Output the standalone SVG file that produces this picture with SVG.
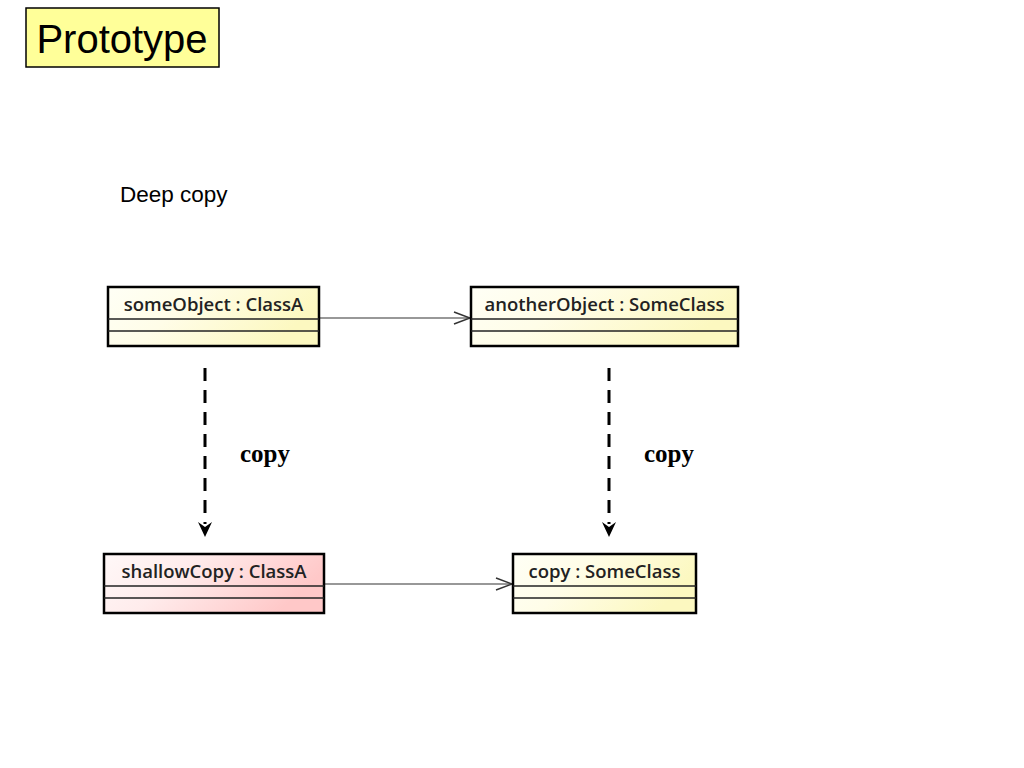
<svg xmlns="http://www.w3.org/2000/svg" width="1024" height="768" viewBox="0 0 1024 768">
<defs>
<linearGradient id="gy" x1="0" y1="0" x2="1" y2="0.3">
<stop offset="0" stop-color="#fffff6"/>
<stop offset="0.4" stop-color="#fffde8"/>
<stop offset="1" stop-color="#fcf8c0"/>
</linearGradient>
<linearGradient id="gp" x1="0" y1="0" x2="1" y2="0.3">
<stop offset="0" stop-color="#fff8f8"/>
<stop offset="0.4" stop-color="#ffecec"/>
<stop offset="1" stop-color="#ffc8c8"/>
</linearGradient>
<marker id="open" markerWidth="20" markerHeight="14" refX="18" refY="7" orient="auto" markerUnits="userSpaceOnUse">
<path d="M2,1 L18,7 L2,13" fill="none" stroke="#333" stroke-width="1.5"/>
</marker>
<style>
.box{stroke:#000;stroke-width:2.5}
.sep{stroke:#222;stroke-width:1.5}
.lbl{font-family:"Open Sans","DejaVu Sans",sans-serif;font-weight:600;font-size:18.5px;fill:#222;text-anchor:middle}
.conn{stroke:#333;stroke-width:1.2;fill:none}
.dash{stroke:#000;stroke-width:3;stroke-dasharray:13 9;fill:none}
.cp{font-family:"Liberation Serif",serif;font-weight:bold;font-size:25px;fill:#000}
</style>
</defs>
<rect width="1024" height="768" fill="#fff"/>
<g id="title">
<rect x="26" y="8" width="193" height="59" fill="#ffff99" stroke="#000" stroke-width="1.5"/>
<text x="122" y="53" font-family="Liberation Sans,Arial,sans-serif" font-size="40" text-anchor="middle" fill="#000">Prototype</text>
</g>
<text id="deepcopy" x="120" y="202" font-family="Liberation Sans,Arial,sans-serif" font-size="22.5" fill="#000">Deep copy</text>
<g id="connectors">
<line class="conn" x1="320" y1="318" x2="470" y2="318" marker-end="url(#open)"/>
<line class="conn" x1="325" y1="584" x2="512" y2="584" marker-end="url(#open)"/>
<path class="dash" d="M205,368 V524"/>
<path d="M198,522 L205,527 L212,522 L205,537 Z" fill="#000"/>
<path class="dash" d="M609,368 V524"/>
<path d="M602,522 L609,527 L616,522 L609,537 Z" fill="#000"/>
<text class="cp" x="240" y="462">copy</text>
<text class="cp" x="644" y="462">copy</text>
</g>
<g id="someObject">
<rect class="box" x="108" y="287" width="211" height="59" fill="url(#gy)"/>
<line class="sep" x1="108" y1="319" x2="319" y2="319"/>
<line class="sep" x1="108" y1="331" x2="319" y2="331"/>
<text class="lbl" x="213.5" y="311">someObject : ClassA</text>
</g>
<g id="anotherObject">
<rect class="box" x="471" y="287" width="267" height="59" fill="url(#gy)"/>
<line class="sep" x1="471" y1="319" x2="738" y2="319"/>
<line class="sep" x1="471" y1="331" x2="738" y2="331"/>
<text class="lbl" x="604.5" y="311">anotherObject : SomeClass</text>
</g>
<g id="shallowCopy">
<rect class="box" x="104" y="554" width="220" height="59" fill="url(#gp)"/>
<line class="sep" x1="104" y1="586" x2="324" y2="586"/>
<line class="sep" x1="104" y1="598" x2="324" y2="598"/>
<text class="lbl" x="214" y="578">shallowCopy : ClassA</text>
</g>
<g id="copy">
<rect class="box" x="513" y="554" width="183" height="59" fill="url(#gy)"/>
<line class="sep" x1="513" y1="586" x2="696" y2="586"/>
<line class="sep" x1="513" y1="598" x2="696" y2="598"/>
<text class="lbl" x="604.5" y="578">copy : SomeClass</text>
</g>
</svg>
